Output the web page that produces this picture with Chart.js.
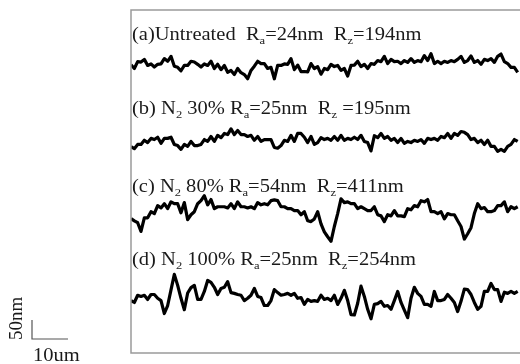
<!DOCTYPE html>
<html>
<head>
<meta charset="utf-8">
<script src="https://cdn.jsdelivr.net/npm/chart.js@4.4.1/dist/chart.umd.min.js"></script>
<style>
  html, body { margin: 0; padding: 0; background: #fff; }
  #wrap { width: 520px; height: 364px; }
</style>
</head>
<body>
<div id="wrap"><canvas id="profiles"></canvas></div>
<script>
// sample spacing along the scan, in um
const STEP_UM = 0.926;
// vertical offset of each trace on the stacked plot, in nm
const offsetsNm = [753, 553, 368, 145];

// surface height relative to the trace mean line, in nm
const profileA = [6, -4, 14, 13, 20, 4, 8, 0, 7, 8, 22, 15, 28, 2, -1, -10, 4, 4, 15, 13, 7, 0, 8, 4, 15, -4, 7, -7, 4, -14,
    -9, -20, -4, -15, -20, -31, -9, 2, 15, 9, 9, -4, -1, -31, 4, 4, 8, 7, 22, -7, 5, -12, -12, -13, 9, -4, 1,
    -19, -4, -7, 7, 1, 4, -9, -4, -24, 4, 5, 15, 1, 7, -4, 9, 7, 17, 14, 28, 9, 20, 14, 15, 9, 17, 12, 22, 12, 17,
    14, 30, 17, 35, 9, 15, 9, 15, 12, 17, 14, 20, 28, 12, 17, 29, 12, 17, 7, 20, 17, 22, 12, 28, 34, 14, 9, -1, -1, -14];
const profileB = [-10, -15, -4, -4, 7, 1, 12, 9, 15, -1, 12, 12, 15, -4, -7, -17, -4, -9, 4, -7, -7, -4, 9, 4, 17, 4, 20, 14, 25, 22,
    37, 22, 33, 22, 22, 17, 20, 7, 17, 4, 9, 9, 9, -12, -14, -7, 7, 4, 20, 4, 25, 25, 15, 1, 17, -4, 1,
    14, 9, 12, 7, 17, 7, 20, 7, 12, 9, 15, 9, 20, 4, 1, -21, 19, 14, 25, 12, 17, 7, 12, 1, 12, -1, 4, 1, 7, 4,
    9, -1, 12, 9, 12, 7, 17, 14, 25, 12, 25, 20, 30, 28, 22, 9, 12, 1, 7, -4, 7, -9, -9, -22, -17, -22, -9, -4, 9, 4];
const profileC = [-14, -20, -25, -48, -12, -12, 4, -1, 20, 14, 25, 12, 30, 25, 25, 1, 28, -17, -4, 4, 25, 33, 46, 22, 36, 12, 17, 17, 17, 14,
    25, 12, 30, 17, 17, 14, 17, 12, 28, 22, 25, 22, 33, 35, 33, 17, 17, 12, 12, 7, 7, -4, 4, -20, -22, -15, 4,
    -28, -49, -62, -74, -35, -1, 38, 28, 30, 25, 25, 12, 17, 12, 7, 7, 17, -4, -7, -22, -4, -7, 7, -7, -7, -9, 12, 9, 20, 17,
    33, 30, 36, 4, 4, -1, 4, -15, -1, -4, -4, -20, -35, -68, -54, -38, -1, 25, 12, 15, 4, 4, 7, 20, 20, 30, 4, 17, 12, 17];
const profileD = [-7, -12, 7, 4, 7, -4, 9, 9, -1, -7, -41, -20, 21, 62, 33, -1, -31, 13, 27, 33, -4, -4, 17, 46, 41, 28, 9, 25, 28, 43,
    14, 12, 9, 7, -7, -1, 7, 25, 4, 1, -20, -20, -7, 22, 14, 7, 9, 12, 7, 12, -1, 1, -17, -4, -9, -7, -9,
    7, -4, -1, -7, 7, -17, -1, 20, -7, -44, -45, -14, 31, 4, -30, -55, -17, -15, -9, -22, -20, -30, -7, 17, -12, -32, -52, -1, 28, 12,
    4, -17, -17, -22, 17, -7, -7, -4, 9, -1, -12, -36, -9, 23, 22, 9, -12, -30, -22, 17, 17, 38, 22, 22, -9, 15, 12, 17, 12, 17];

// caption pieces: [text, isSubscript]
const captionA = [['(a)Untreated  R', 0], ['a', 1], ['=24nm  R', 0], ['z', 1], ['=194nm', 0]];
const captionB = [['(b) N', 0], ['2', 1], [' 30% R', 0], ['a', 1], ['=25nm  R', 0], ['z', 1], [' =195nm', 0]];
const captionC = [['(c) N', 0], ['2', 1], [' 80% R', 0], ['a', 1], ['=54nm  R', 0], ['z', 1], ['=411nm', 0]];
const captionD = [['(d) N', 0], ['2', 1], [' 100% R', 0], ['a', 1], ['=25nm  R', 0], ['z', 1], ['=254nm', 0]];

const SCALE_X_UM = 10;
const SCALE_Y_NM = 50;
const scaleLabelX = '10um';
const scaleLabelY = '50nm';

const profiles = [profileA, profileB, profileC, profileD];
const captions = [captionA, captionB, captionC, captionD];
const captionBaselines = [40, 114, 192, 265];

function toPoints(profile, offset) {
    return profile.map((h, i) => ({ x: i * STEP_UM, y: offset + h }));
}

const FONT = '"Liberation Serif", "Times New Roman", serif';
const STRETCH = 1.14;

function drawCaption(ctx, pieces, x, y) {
    ctx.save();
    ctx.translate(x, y);
    ctx.scale(STRETCH, 1);
    let cx = 0;
    for (const [text, sub] of pieces) {
        ctx.font = (sub ? '11px ' : '18px ') + FONT;
        ctx.fillText(text, cx, sub ? 4 : 0);
        cx += ctx.measureText(text).width;
    }
    ctx.restore();
}

const framePlugin = {
    id: 'frame',
    afterDraw(chart) {
        const { ctx, chartArea: a, scales } = chart;
        ctx.save();
        // box, open on the right side
        ctx.strokeStyle = '#9a9a9a';
        ctx.lineWidth = 1.5;
        ctx.beginPath();
        ctx.moveTo(chart.width, a.top);
        ctx.lineTo(a.left, a.top);
        ctx.lineTo(a.left, a.bottom);
        ctx.lineTo(chart.width, a.bottom);
        ctx.stroke();

        ctx.fillStyle = '#1a1a1a';
        ctx.textBaseline = 'alphabetic';
        captions.forEach((c, i) => drawCaption(ctx, c, a.left + 1, captionBaselines[i]));

        // scale bar
        const lenX = scales.x.getPixelForValue(SCALE_X_UM) - scales.x.getPixelForValue(0);
        const lenY = scales.y.getPixelForValue(0) - scales.y.getPixelForValue(SCALE_Y_NM);
        const bx = 32, by = 339;
        ctx.strokeStyle = '#555';
        ctx.lineWidth = 1.2;
        ctx.beginPath();
        ctx.moveTo(bx, by - lenY);
        ctx.lineTo(bx, by);
        ctx.lineTo(bx + lenX, by);
        ctx.stroke();

        ctx.fillStyle = '#1a1a1a';
        ctx.font = '19px ' + FONT;
        ctx.save();
        ctx.translate(22, 340);
        ctx.rotate(-Math.PI / 2);
        ctx.fillText(scaleLabelY, 0, 0);
        ctx.restore();
        drawCaption(ctx, [[scaleLabelX, 0]], 33, 361);
        ctx.restore();
    }
};

new Chart(document.getElementById('profiles'), {
    type: 'line',
    data: {
        datasets: profiles.map((p, i) => ({
            data: toPoints(p, offsetsNm[i]),
            borderColor: '#000',
            borderWidth: 3.2,
            borderJoinStyle: 'round',
            pointRadius: 0,
            tension: 0,
            fill: false,
        })),
    },
    options: {
        responsive: true,
        maintainAspectRatio: false,
        animation: false,
        layout: { padding: { left: 131, top: 10, right: 0, bottom: 11 } },
        scales: {
            x: { type: 'linear', min: 0, max: 108.06, display: false },
            y: { type: 'linear', min: 0, max: 903, display: false },
        },
        plugins: {
            legend: { display: false },
            tooltip: { enabled: false },
        },
    },
    plugins: [framePlugin],
});
</script>
</body>
</html>
